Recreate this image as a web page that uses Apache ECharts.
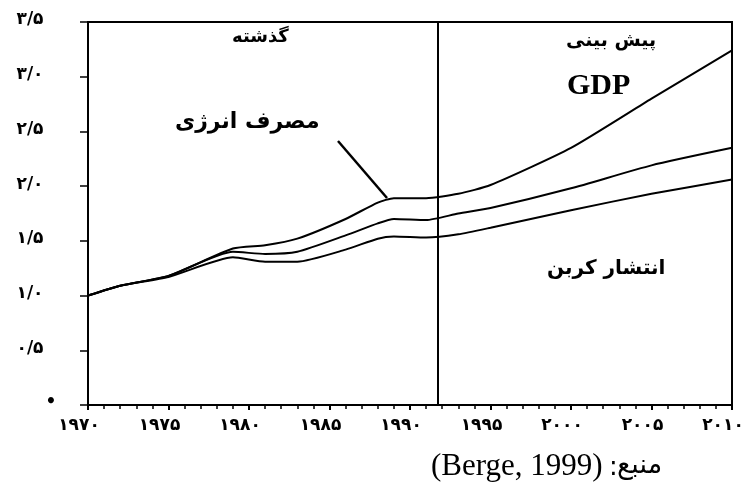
<!DOCTYPE html>
<html>
<head>
<meta charset="utf-8">
<script src="https://cdn.jsdelivr.net/npm/echarts@6/dist/echarts.min.js"></script>
<style>
  html, body { margin: 0; padding: 0; background: #fff; }
  #chart { width: 756px; height: 496px; }
</style>
</head>
<body>
<div id="chart"></div>
<script>
// values (index, 1970 = 1.0)
const years = [1970, 1972, 1975, 1979, 1981, 1983, 1986, 1988, 1989, 1991, 1993, 1995, 2000, 2005, 2010];
const gdp = [1.0, 1.09, 1.18, 1.43, 1.46, 1.52, 1.70, 1.85, 1.89, 1.89, 1.93, 2.01, 2.35, 2.80, 3.24];
const energy = [1.0, 1.09, 1.18, 1.40, 1.38, 1.40, 1.55, 1.66, 1.70, 1.69, 1.75, 1.80, 1.98, 2.19, 2.35];
const carbon = [1.0, 1.09, 1.17, 1.35, 1.31, 1.31, 1.42, 1.52, 1.54, 1.53, 1.56, 1.62, 1.78, 1.93, 2.06];
const splitYear = 1991.75;

const labels = {
  past: "گذشته",
  forecast: "پیش بینی",
  gdp: "GDP",
  energy: "مصرف انرژی",
  carbon: "انتشار کربن",
  sourceWord: "منبع",
  sourceRef: "(Berge, 1999)",
};

const faDigits = "۰۱۲۳۴۵۶۷۸۹";
const toFa = (s) => String(s).replace(/\d/g, (d) => faDigits[d]);

const chart = echarts.init(document.getElementById("chart"));
const lineStyle = { color: "#000", width: 2 };
const mk = (vals) => years.map((y, i) => [y, vals[i]]);
const persianFont = "DejaVu Sans";

chart.setOption({
  backgroundColor: "#fff",
  animation: false,
  grid: {
    left: 88, right: 24, top: 22, bottom: 91,
    show: true, borderColor: "#000", borderWidth: 2,
  },
  xAxis: {
    type: "value",
    min: 1970, max: 2010, interval: 5,
    axisLine: { lineStyle: { color: "#000", width: 2 } },
    axisTick: { show: true, length: 5, lineStyle: { color: "#000", width: 2 } },
    minorTick: { show: true, splitNumber: 5, length: 4, lineStyle: { color: "#000", width: 1.5 } },
    splitLine: { show: false },
    axisLabel: {
      color: "#000", fontFamily: persianFont, fontWeight: "bold", fontSize: 17,
      margin: 12, padding: [0, 18, 0, 0],
      formatter: (v) => toFa(v),
    },
  },
  yAxis: {
    type: "value",
    min: 0, max: 3.5, interval: 0.5,
    axisLine: { lineStyle: { color: "#000", width: 2 } },
    axisTick: { show: true, inside: false, length: 8, lineStyle: { color: "#000", width: 1.5 } },
    splitLine: { show: false },
    axisLabel: {
      color: "#000", fontFamily: persianFont, fontWeight: "bold", fontSize: 17,
      margin: 58, align: "center", padding: [0, 0, 4, 0],
      formatter: (v) => (v === 0 ? "{z|•}" : toFa(v.toFixed(1)).replace(".", "/")),
      rich: { z: { fontSize: 17, fontWeight: "bold", padding: [0, 0, 0, 42] } },
    },
  },
  series: [
    {
      name: labels.gdp, type: "line", data: mk(gdp), smooth: 0.2,
      symbol: "none", lineStyle, z: 3,
      markLine: {
        symbol: "none", silent: true, label: { show: false },
        lineStyle: { color: "#000", width: 2, type: "solid" },
        data: [{ xAxis: splitYear }],
      },
    },
    { name: labels.energy, type: "line", data: mk(energy), smooth: 0.2, symbol: "none", lineStyle, z: 3 },
    { name: labels.carbon, type: "line", data: mk(carbon), smooth: 0.2, symbol: "none", lineStyle, z: 3 },
  ],
  graphic: [
    { type: "text", left: 232, top: 28, style: { text: labels.past, font: "bold 18px 'DejaVu Sans'", fill: "#000" } },
    { type: "text", left: 566, top: 32, style: { text: labels.forecast, font: "bold 19px 'DejaVu Sans'", fill: "#000" } },
    { type: "text", left: 567, top: 71, style: { text: labels.gdp, font: "bold 30px 'Liberation Serif'", fill: "#000" } },
    { type: "text", left: 175, top: 111, style: { text: labels.energy, font: "bold 22px 'DejaVu Sans'", fill: "#000" } },
    { type: "line", shape: { x1: 338, y1: 141, x2: 387, y2: 198 }, style: { stroke: "#000", lineWidth: 2.5 } },
    { type: "text", left: 547, top: 259, style: { text: labels.carbon, font: "bold 20px 'DejaVu Sans'", fill: "#000" } },
    { type: "text", left: 431, top: 451, style: { text: labels.sourceRef, font: "31px 'Liberation Serif'", fill: "#000" } },
    { type: "text", left: 609, top: 455, style: { text: ":", font: "26px 'DejaVu Sans'", fill: "#000" } },
    { type: "text", left: 617, top: 452, style: { text: labels.sourceWord, font: "27px 'DejaVu Sans'", fill: "#000" } },
  ],
});
</script>
</body>
</html>
